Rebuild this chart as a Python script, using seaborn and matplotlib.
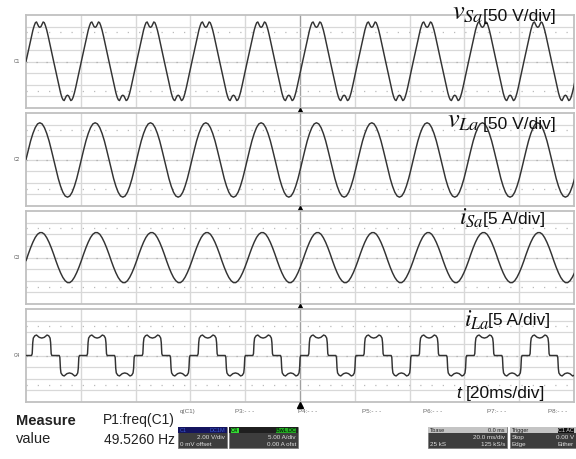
import numpy as np
import pandas as pd
import matplotlib
matplotlib.use("Agg")
import matplotlib.pyplot as plt
import seaborn as sns
from matplotlib.patches import Rectangle
import matplotlib.transforms as mtransforms

# ---------------- data ----------------
freq_hz = 49.526          # measured P1:freq(C1)
ms_per_div = 20.0
n_div = 10

# one period of each waveform: phase (fraction of period) and value
vsa_phase = [0.0, 0.025, 0.05, 0.075, 0.10, 0.125, 0.15, 0.17, 0.19, 0.21, 0.23, 0.25,
             0.27, 0.29, 0.31, 0.33, 0.35, 0.375, 0.40, 0.425, 0.45, 0.475,
             0.5, 0.525, 0.55, 0.575, 0.60, 0.625, 0.65, 0.67, 0.69, 0.71, 0.73, 0.75,
             0.77, 0.79, 0.81, 0.83, 0.85, 0.875, 0.90, 0.925, 0.95, 0.975]
vsa_volts = [0, 27, 55, 82, 110, 135, 155, 167, 170, 160, 150, 147,
             150, 160, 170, 167, 155, 135, 110, 82, 55, 27,
             0, -27, -55, -82, -110, -135, -155, -165, -168, -158, -148, -145,
             -148, -158, -168, -165, -155, -135, -110, -82, -55, -27]

vla_phase = [k / 24 for k in range(24)]
vla_volts = [0, 41, 80, 112, 137, 153, 158, 153, 137, 112, 80, 41,
             0, -42, -82, -115, -141, -157, -162, -157, -141, -115, -82, -42]

isa_phase = [k / 24 for k in range(24)]
isa_amps = [-1.4, 1.5, 4.2, 6.6, 8.6, 10.0, 10.7, 10.7, 10.0, 8.5, 6.5, 4.1,
            1.4, -1.5, -4.2, -6.6, -8.6, -10.0, -10.8, -10.8, -10.0, -8.5, -6.5, -4.1]

ila_phase = [0.0, 0.100, 0.112, 0.122, 0.132, 0.16, 0.19, 0.24, 0.285, 0.33, 0.38, 0.41,
             0.435, 0.445, 0.455, 0.467,
             0.600, 0.612, 0.622, 0.632, 0.66, 0.69, 0.74, 0.785, 0.83, 0.88, 0.91,
             0.935, 0.945, 0.955, 0.967]
ila_amps = [0.0, 0.0, 0.8, 5.5, 7.5, 8.5, 8.8, 7.8, 7.5, 7.8, 8.8, 8.5,
            7.5, 5.5, 0.8, 0.0,
            0.0, -0.8, -5.5, -7.5, -8.5, -8.8, -7.8, -7.5, -7.8, -8.8, -8.5,
            -7.5, -5.5, -0.8, 0.0]

channel_names = ["C1", "C2", "C3", "C4"]
volts_per_div = [50, 50, 5, 5]
label_sym = [r"$v_{Sa}$", r"$v_{La}$", r"$i_{Sa}$", r"$i_{La}$"]
label_unit = ["[50 V/div]", "[50 V/div]", "[5 A/div]", "[5 A/div]"]
param_labels = ["q(C1)", "P3:- - -", "P4:- - -", "P5:- - -", "P6:- - -", "P7:- - -", "P8:- - -"]

# ---------------- helpers ----------------
period_ms = 1000.0 / freq_hz
t_span = ms_per_div * n_div


def tile(phase, vals):
    n = int(np.ceil(t_span / period_ms)) + 1
    t = np.concatenate([(k + np.asarray(phase)) * period_ms for k in range(n)])
    y = np.tile(np.asarray(vals, dtype=float), n)
    return pd.DataFrame({"t": t, "y": y})


data = [tile(vsa_phase, vsa_volts), tile(vla_phase, vla_volts),
        tile(isa_phase, isa_amps), tile(ila_phase, ila_amps)]

sns.set_theme(style="white")
plt.rcParams["font.family"] = ["Liberation Sans", "DejaVu Sans"]
plt.rcParams["mathtext.fontset"] = "stix"

W, H = 576, 459
fig = plt.figure(figsize=(W / 100, H / 100), dpi=100)
fig.patch.set_facecolor("white")


def fx(px):
    return px / W


def fy(py):
    return 1 - py / H


panel_px = [(15, 108), (113, 206), (211, 304), (309, 402)]
left_px, right_px = 26, 574
grid_c = "#d8d8d8"
border_c = "#c0c0c0"

for i, (top, bot) in enumerate(panel_px):
    ax = fig.add_axes([fx(left_px), fy(bot), (right_px - left_px) / W, (bot - top) / H])
    vpd = volts_per_div[i]
    ax.set_xlim(0, t_span)
    ax.set_ylim(-4 * vpd, 4 * vpd)
    # grid
    for k in range(1, n_div):
        ax.axvline(k * ms_per_div, color=("#a0a0a0" if k == 5 else grid_c), lw=1.0, zorder=1)
    for k in range(-3, 4):
        ax.axhline(k * vpd, color=grid_c, lw=0.9, zorder=1)
    for k in (-2.5, 2.5):
        ax.axhline(k * vpd, color="#bbbbbb", lw=0.9, ls=(0, (1, 8)), zorder=1)
    ax.axhline(0, color="#aaaaaa", lw=0.9, ls=(0, (1, 7)), zorder=1.1)
    sns.lineplot(data=data[i], x="t", y="y", ax=ax, color="#333333", lw=1.05,
                 estimator=None, sort=False, zorder=3)
    ax.set_xticks([])
    ax.set_yticks([])
    ax.set_xlabel("")
    ax.set_ylabel("")
    for s in ax.spines.values():
        s.set_color(border_c)
        s.set_linewidth(1.3)
    # trigger marker under the panel
    trans = mtransforms.blended_transform_factory(ax.transData, ax.transAxes)
    ax.plot([100], [-0.03], marker="^", ms=4.5, color="black", transform=trans,
            clip_on=False, zorder=5)
    # channel tag
    fig.text(fx(14), fy((top + bot) / 2), channel_names[i], fontsize=3.5, color="#555555",
             va="center", ha="left")

# waveform labels
lab_pos = [(452, 19, 483, 21, 19), (447, 127, 483, 129.5, 19),
           (459, 225, 483, 223.5, 17), (464, 327, 488, 324.5, 17)]
for i, (sx, sy, ux, uy, fs) in enumerate(lab_pos):
    fig.text(fx(sx), fy(sy), label_sym[i], fontsize=fs, va="baseline", ha="left", color="#111111")
    fig.text(fx(ux), fy(uy), label_unit[i], fontsize=12.5, va="baseline", ha="left", color="#111111")

fig.text(fx(456), fy(398), "t", fontsize=12.5, style="italic", va="baseline", ha="left", color="#111111")
fig.text(fx(466), fy(398), "[20ms/div]", fontsize=12.5, va="baseline", ha="left", color="#111111")

# measurement area
fig.text(fx(16), fy(425), "Measure", weight="bold",
         fontsize=10.5, va="baseline", ha="left", color="#222222")
fig.text(fx(16), fy(443), "value",
         fontsize=10.5, va="baseline", ha="left", color="#222222")
fig.text(fx(175), fy(424), "P1:freq(C1)",
         fontsize=10, va="baseline", ha="right", color="#222222")
fig.text(fx(175), fy(444), "49.5260 Hz",
         fontsize=10, va="baseline", ha="right", color="#222222")

p_x = [180, 235, 298, 362, 423, 487, 548]
for x, s in zip(p_x, param_labels):
    fig.text(fx(x), fy(413), s, fontsize=4.5, color="#666666", va="baseline", ha="left")


def box(x0, x1, y0, y1, head_c, lines, head_items):
    fig.add_artist(Rectangle((fx(x0), fy(y1)), (x1 - x0) / W, (y1 - y0) / H,
                             transform=fig.transFigure, facecolor="#3d3d3d",
                             edgecolor="#777777", lw=0.5))
    fig.add_artist(Rectangle((fx(x0), fy(y0 + 6)), (x1 - x0) / W, 6 / H,
                             transform=fig.transFigure, facecolor=head_c, edgecolor="none"))
    for (tx, txt, fc, tc, ha) in head_items:
        fig.text(fx(tx), fy(y0 + 5), txt, fontsize=4, color=tc, ha=ha, va="baseline",
                 bbox=None if fc is None else dict(facecolor=fc, edgecolor="none", pad=0.3))
    for j, (l, r) in enumerate(lines):
        yy = y0 + 12 + j * 7
        if l:
            fig.text(fx(x0 + 2), fy(yy), l, fontsize=4.5, color="#e0e0e0", ha="left", va="baseline")
        if r:
            fig.text(fx(x1 - 2), fy(yy), r, fontsize=4.5, color="#e0e0e0", ha="right", va="baseline")


box(178, 227, 427, 448, "#14145e", [("", "2.00 V/div"), ("0 mV offset", "")],
    [(180, "C1", None, "#3b5bd0", "left"), (225, "DC1M", None, "#3b5bd0", "right")])
box(229, 298, 427, 448, "#1f1f1f", [("", "5.00 A/div"), ("", "0.00 A ofst")],
    [(231, "C4", "#33dd33", "#000000", "left"), (296, "BwL DC", "#22aa22", "#000000", "right")])
box(428, 507, 427, 448, "#c4c4c4", [("", "20.0 ms/div"), ("25 kS", "125 kS/s")],
    [(430, "Tbase", None, "#222222", "left"), (505, "0.0 ms", None, "#222222", "right")])
box(510, 576, 427, 448, "#c4c4c4", [("Stop", "0.00 V"), ("Edge", "Either")],
    [(512, "Trigger", None, "#222222", "left"), (574, "C1 AC", "#111111", "#dddddd", "right")])

fig.savefig("out.png", dpi=100, facecolor="white")
